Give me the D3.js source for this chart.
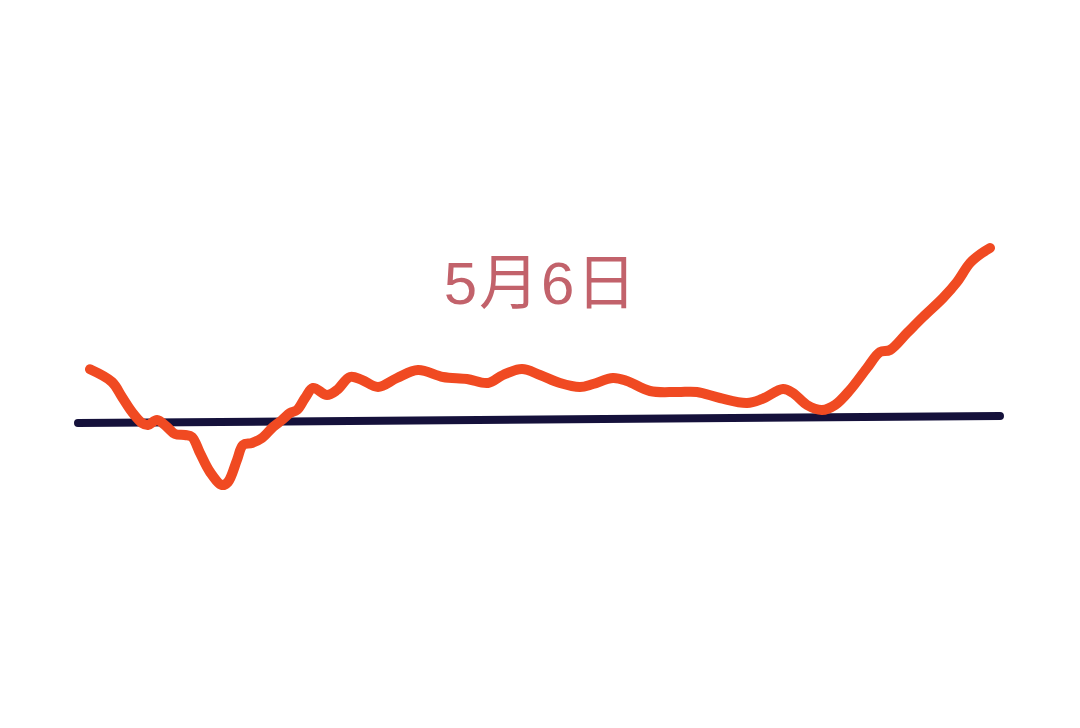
<!DOCTYPE html>
<html>
<head>
<meta charset="utf-8">
<script src="https://cdn.jsdelivr.net/npm/d3@7"></script>
<style>
html,body{margin:0;padding:0;background:#fff;}
svg{display:block;}
</style>
</head>
<body>
<svg id="chart" width="1080" height="728"></svg>
<script>
const title = "5月6日";
const steps = [12,34,44,54,64,70,79,89,97,107,114,122,132,144,150,159,165,174,184,195,204,212,219,227,235,249,259,272,284,300,319,340,365,389,410,425,444,462,482,502,515,535,549,572,599,619,642,669,684,705,715,729,744,757,772,789,802,812,829,845,865,879,892,904,912];
const values = [53.7,41,26,11,0,-2,3,-4,-11,-12,-14,-30,-49,-62,-59,-37,-22,-20,-15,-4,3,10,13,25,35,28,33,46,43,36,45,53,46,44,40,48,54,48,40,36,39,45,42,32,31,31,25,20,24,34,30,18,13,18,33,55,71,73,90,106,125,141,160,170,175];
const baseSteps = [0, 922];
const baseValues = [0, 7];

const svg = d3.select("#chart");
const x = d3.scaleLinear().domain([0, 922]).range([78, 1000]);
const y = d3.scaleLinear().domain([0, 100]).range([423, 323]);

const baseData = baseSteps.map((s, i) => ({s, v: baseValues[i]}));
const lineData = steps.map((s, i) => ({s, v: values[i]}));

svg.append("path")
  .datum(baseData)
  .attr("d", d3.line().x(d => x(d.s)).y(d => y(d.v)))
  .attr("fill", "none")
  .attr("stroke", "#15113b")
  .attr("stroke-width", 8)
  .attr("stroke-linecap", "round");

svg.append("path")
  .datum(lineData)
  .attr("d", d3.line().x(d => x(d.s)).y(d => y(d.v)).curve(d3.curveCatmullRom.alpha(0.5)))
  .attr("fill", "none")
  .attr("stroke", "#f04a22")
  .attr("stroke-width", 10)
  .attr("stroke-linecap", "round")
  .attr("stroke-linejoin", "round");

svg.append("text")
  .attr("x", 541)
  .attr("y", 304)
  .attr("text-anchor", "middle")
  .attr("font-family", "'Liberation Sans', 'Noto Sans CJK SC', sans-serif")
  .attr("font-size", 60)
  .attr("font-weight", 400)
  .attr("letter-spacing", 2)
  .attr("fill", "#c2626b")
  .text(title);
</script>
</body>
</html>
